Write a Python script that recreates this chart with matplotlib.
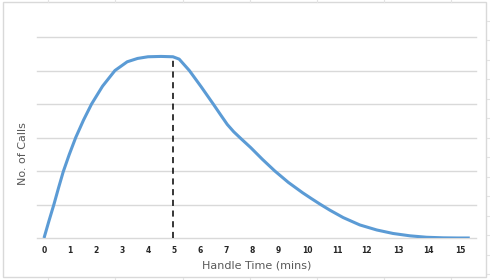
import matplotlib.pyplot as plt
from matplotlib.patches import Rectangle
from matplotlib.lines import Line2D

# curve (x in axis position units, calls)
time_pos = [0, 0.19, 0.38, 0.56, 0.74, 0.97, 1.22, 1.52, 1.83, 2.25, 2.73, 3.2,
            3.6, 4.0, 4.5, 4.96, 5.2, 5.59, 6.05, 6.51, 6.8, 7.05, 7.3, 7.6,
            7.95, 8.4, 8.88, 9.4, 9.95, 10.3, 10.62, 11.0, 11.51, 12.15, 12.8,
            13.43, 14.08, 14.72, 15.36, 15.9, 16.38]
calls = [0, 5.1, 10, 15, 19.8, 24.9, 30, 35.2, 40, 45.3, 50, 52.6,
         53.6, 54.1, 54.2, 54.1, 53.4, 50, 45.1, 40, 36.7, 33.9, 31.7, 29.5,
         27.0, 23.5, 20, 16.6, 13.5, 11.7, 10.1, 8.3, 6.1, 3.9, 2.4,
         1.35, 0.65, 0.22, 0.05, 0.0, 0.0]

peak_pos = 4.96
peak_calls = 54.1

tick_labels = [str(i) for i in range(16)]
tick_pos = [0, 1, 2, 3, 4, 5, 6, 7, 8, 9, 10.12, 11.27, 12.42, 13.62, 14.8, 16.03]
grid_levels = [0, 10, 20, 30, 40, 50, 60]

fig = plt.figure(figsize=(4.9, 2.8), dpi=100)
W, H = 490, 280

# chart border and faint sheet cell lines
fig.add_artist(Rectangle((2.5 / W, 1 - 276.5 / H), 483 / W, 275 / H,
                         transform=fig.transFigure, fill=False,
                         edgecolor='#d9d9d9', linewidth=1.0))
for cx in [47.5, 115, 182.5, 250, 316.5, 384, 450.5]:
    for y0, y1 in [(0, 1.5), (277.5, 280)]:
        fig.add_artist(Line2D([cx / W, cx / W], [1 - y0 / H, 1 - y1 / H],
                              transform=fig.transFigure, color='#e3e3e3', lw=0.8))
for i in range(15):
    cy = 20.5 + i * 19.5
    fig.add_artist(Line2D([487 / W, 1], [1 - cy / H, 1 - cy / H],
                          transform=fig.transFigure, color='#e3e3e3', lw=0.8))

ax = fig.add_axes([37 / W, 42 / H, 439 / W, 201 / H])
ax.set_xlim(-0.27, 16.62)
ax.set_ylim(0, 60)

for g in grid_levels:
    ax.axhline(g, color='#d9d9d9', linewidth=1.0, zorder=1, clip_on=False)

ax.plot(time_pos, calls, color='#5b9bd5', linewidth=2.2,
        solid_capstyle='butt', solid_joinstyle='round', zorder=3)
ax.plot([peak_pos, peak_pos], [0, peak_calls], color='black', linewidth=1.1,
        linestyle=(0, (4, 3)), zorder=2)

for s in ax.spines.values():
    s.set_visible(False)
ax.set_yticks([])
ax.set_xticks(tick_pos)
ax.set_xticklabels(tick_labels, fontsize=5.5, fontweight='bold', color='#262626')
ax.tick_params(axis='x', length=0, pad=6)

ax.set_xlabel('Handle Time (mins)', fontsize=8, color='#595959', labelpad=4)
ax.set_ylabel('No. of Calls', fontsize=8, color='#595959', labelpad=2)
ax.yaxis.set_label_coords(-0.02, 0.42)

fig.savefig('out.png', dpi=100)
